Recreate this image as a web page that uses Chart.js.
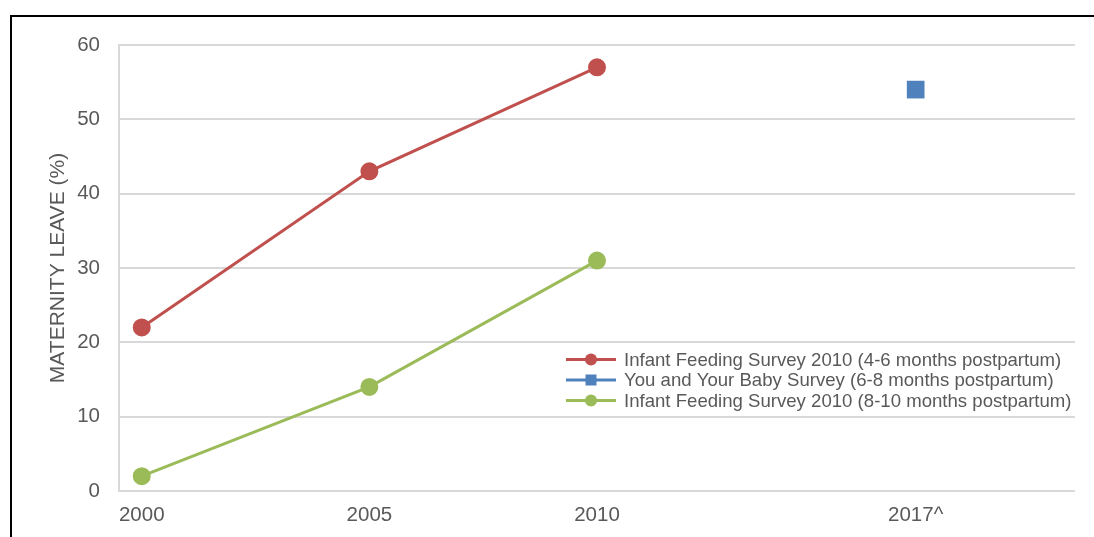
<!DOCTYPE html>
<html>
<head>
<meta charset="utf-8">
<script src="https://cdn.jsdelivr.net/npm/chart.js@4.4.1/dist/chart.umd.min.js"></script>
<style>
  html, body { margin: 0; padding: 0; background: #ffffff; }
  #wrap { position: relative; width: 1094px; height: 537px; overflow: hidden; }
  #frame { position: absolute; left: 10px; top: 15px; right: -10px; bottom: -10px;
           border-top: 2px solid #000; border-left: 2px solid #000; pointer-events: none; }
  canvas { position: absolute; left: 0; top: 0; }
</style>
</head>
<body>
<div id="wrap">
  <canvas id="chart" width="1094" height="537"></canvas>
  <div id="frame"></div>
</div>
<script>
// Survey years and percentage of mothers on maternity leave
const yearTicks = [2000, 2005, 2010, 2017];
const tickLabels = ['2000', '2005', '2010', '2017^'];

const ifsYears = [2000, 2005, 2010];
const ifs4to6 = [22, 43, 57];
const ifs8to10 = [2, 14, 31];

const yaybYears = [2017];
const yayb6to8 = [54];

const seriesNames = [
  'Infant Feeding Survey 2010 (4-6 months postpartum)',
  'You and Your Baby Survey (6-8 months postpartum)',
  'Infant Feeding Survey 2010 (8-10 months postpartum)'
];

const RED = '#C0504D', BLUE = '#4F81BD', GREEN = '#9BBB59';
const TEXT = '#595959', GRID = '#D9D9D9';
const FONT = '"Liberation Sans", Arial, sans-serif';

const toPoints = (xs, ys) => xs.map((x, i) => ({ x, y: ys[i] }));

// Legend drawn inside the plot area, right side
const insideLegend = {
  id: 'insideLegend',
  afterDraw(chart, args, opts) {
    const ctx = chart.ctx;
    ctx.save();
    ctx.font = opts.fontSize + 'px ' + FONT;
    ctx.textBaseline = 'middle';
    ctx.textAlign = 'left';
    chart.data.datasets.forEach((ds, i) => {
      const y = opts.top + i * opts.rowGap;
      const x0 = opts.left, x1 = opts.left + opts.lineLen;
      ctx.strokeStyle = ds.borderColor;
      ctx.lineWidth = 3;
      ctx.beginPath();
      ctx.moveTo(x0, y);
      ctx.lineTo(x1, y);
      ctx.stroke();
      const cx = (x0 + x1) / 2;
      ctx.fillStyle = ds.pointBackgroundColor;
      if (ds.pointStyle === 'rect') {
        ctx.fillRect(cx - 5.5, y - 5.5, 11, 11);
      } else {
        ctx.beginPath();
        ctx.arc(cx, y, 6, 0, Math.PI * 2);
        ctx.fill();
      }
      ctx.fillStyle = TEXT;
      ctx.fillText(ds.label, x1 + opts.textGap, y + 1);
    });
    ctx.restore();
  }
};

new Chart(document.getElementById('chart'), {
  type: 'line',
  data: {
    datasets: [
      {
        label: seriesNames[0],
        data: toPoints(ifsYears, ifs4to6),
        borderColor: RED, backgroundColor: RED, pointBackgroundColor: RED,
        pointBorderColor: RED, borderWidth: 3, pointRadius: 7.5, pointStyle: 'circle'
      },
      {
        label: seriesNames[1],
        data: toPoints(yaybYears, yayb6to8),
        borderColor: BLUE, backgroundColor: BLUE, pointBackgroundColor: BLUE,
        pointBorderColor: BLUE, borderWidth: 0, pointBorderWidth: 0,
        pointRadius: 12.5, pointStyle: 'rect', showLine: false
      },
      {
        label: seriesNames[2],
        data: toPoints(ifsYears, ifs8to10),
        borderColor: GREEN, backgroundColor: GREEN, pointBackgroundColor: GREEN,
        pointBorderColor: GREEN, borderWidth: 3, pointRadius: 7.5, pointStyle: 'circle'
      }
    ]
  },
  options: {
    responsive: false,
    animation: false,
    layout: { padding: { left: 0, right: 19, top: 45, bottom: 0 } },
    plugins: {
      legend: { display: false },
      tooltip: { enabled: false },
      insideLegend: { left: 566, top: 359.5, rowGap: 20.5, lineLen: 50, textGap: 8, fontSize: 18.6 }
    },
    scales: {
      x: {
        type: 'linear',
        min: 1999.5,
        max: 2020.5,
        afterBuildTicks(axis) { axis.ticks = yearTicks.map(v => ({ value: v })); },
        afterFit(axis) { axis.height = 46; },
        grid: { display: false, drawTicks: false },
        border: { display: false },
        ticks: {
          padding: 12,
          color: TEXT,
          font: { family: FONT, size: 20.5 },
          maxRotation: 0,
          autoSkip: false,
          callback: (v) => tickLabels[yearTicks.indexOf(v)]
        }
      },
      y: {
        min: 0,
        max: 60,
        afterFit(axis) { axis.width = 119; },
        grid: { color: GRID, lineWidth: 2, drawTicks: false },
        border: { display: true, color: GRID, width: 2 },
        ticks: {
          stepSize: 10,
          padding: 19,
          color: TEXT,
          font: { family: FONT, size: 20.5 }
        },
        title: {
          display: true,
          text: 'MATERNITY LEAVE (%)',
          color: TEXT,
          font: { family: FONT, size: 21 },
          padding: { top: 46, bottom: 0 }
        }
      }
    }
  },
  plugins: [insideLegend]
});
</script>
</body>
</html>
